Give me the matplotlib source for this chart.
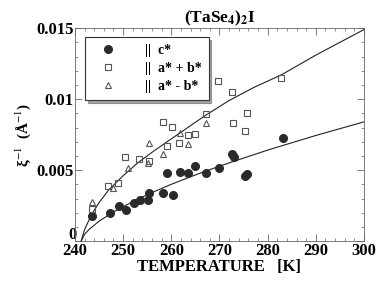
import matplotlib
matplotlib.use("Agg")
import matplotlib.pyplot as plt
from matplotlib.ticker import MultipleLocator, FixedFormatter, FixedLocator
from matplotlib.transforms import ScaledTranslation

plt.rcParams['font.family'] = ['Liberation Serif', 'DejaVu Serif']
plt.rcParams['mathtext.fontset'] = 'stix'

# ξ^-1 along c*
T_c = [243.6, 247.3, 249.1, 250.7, 252.2, 253.5, 255.2, 255.4, 258.3, 260.3,
       259.2, 261.8, 263.5, 264.9, 267.3, 269.9, 272.7, 273.0, 275.4, 275.8, 283.1]
xi_c = [0.00178, 0.00196, 0.00246, 0.00218, 0.00265, 0.00289, 0.00289, 0.00336,
        0.00336, 0.00324, 0.00481, 0.00488, 0.00477, 0.00530, 0.00477, 0.00516,
        0.00613, 0.00594, 0.00458, 0.00472, 0.00728]

# ξ^-1 along a* + b*
T_apb = [243.6, 246.9, 249.0, 250.4, 253.4, 255.4, 258.2, 260.1, 259.2, 261.7,
         263.5, 264.9, 267.3, 269.8, 272.7, 272.9, 275.3, 275.8, 282.8]
xi_apb = [0.00225, 0.00387, 0.00406, 0.00594, 0.00575, 0.00563, 0.0084, 0.00805,
          0.00671, 0.00688, 0.00746, 0.00751, 0.00894, 0.01127, 0.01052, 0.00829,
          0.00777, 0.00904, 0.0115]

# ξ^-1 along a* - b*
T_amb = [243.6, 248.0, 251.1, 255.2, 255.4, 258.2, 261.8, 263.5, 267.3]
xi_amb = [0.00277, 0.00371, 0.00512, 0.00547, 0.00692, 0.00617, 0.00758, 0.00683, 0.00833]

# fit lines
T_fit_lo = [241.3, 242, 243, 245, 248, 252, 256, 260, 265, 270, 280, 290, 300]
xi_fit_lo = [0.0, 0.00047, 0.00084, 0.0014, 0.00205, 0.00278, 0.00342, 0.0040,
             0.00466, 0.00528, 0.00641, 0.00744, 0.0084]
T_fit_hi = [241.3, 242, 243.5, 245, 247, 250, 253, 256.6, 260, 263, 267.3,
            272, 277, 282.8, 290, 300]
xi_fit_hi = [0.0, 0.0008, 0.0019, 0.0027, 0.0036, 0.0046, 0.0055, 0.0064, 0.0072,
             0.0079, 0.0089, 0.0099, 0.0108, 0.0117, 0.0131, 0.0149]

x_ticks = [240, 250, 260, 270, 280, 290, 300]
y_ticks = [0, 0.005, 0.01, 0.015]
y_labels = ['0', '0.005', '0.01', '0.015']

fig = plt.figure(figsize=(3.82, 2.84), dpi=100)
ax = fig.add_axes([0.196, 0.151, 0.757, 0.750])

ax.plot(T_fit_lo, xi_fit_lo, color='#222222', lw=0.8)
ax.plot(T_fit_hi, xi_fit_hi, color='#222222', lw=0.8)

ax.plot(T_c, xi_c, 'o', color='#2a2a2a', ms=5.5, label='||  c*', zorder=3)
ax.plot(T_apb, xi_apb, 's', mfc='none', mec='#555555', mew=0.8, ms=5,
        label='||  a* + b*', zorder=3)
ax.plot(T_amb, xi_amb, '^', mfc='none', mec='#555555', mew=0.8, ms=5,
        label='||  a* - b*', zorder=3)

ax.set_xlim(240, 300)
ax.set_ylim(0, 0.015)
ax.xaxis.set_major_locator(FixedLocator(x_ticks))
ax.yaxis.set_major_locator(FixedLocator(y_ticks))
ax.yaxis.set_major_formatter(FixedFormatter(y_labels))
ax.xaxis.set_minor_locator(MultipleLocator(2))
ax.yaxis.set_minor_locator(MultipleLocator(0.001))
ax.tick_params(which='both', direction='in', top=True, right=True, color='#666666')
ax.tick_params(which='major', length=5, width=0.6, labelsize=12, pad=1)
ax.tick_params(which='minor', length=2.5, width=0.5)
for lab in ax.get_xticklabels() + ax.get_yticklabels():
    lab.set_fontweight('bold')
for s in ax.spines.values():
    s.set_linewidth(0.6)
    s.set_color('#666666')

# the "0" sits a bit higher in the original, just above "240"
ylabs = ax.get_yticklabels()
ylabs[0].set_transform(ylabs[0].get_transform() +
                       ScaledTranslation(0.03, 0.08, fig.dpi_scale_trans))

ax.set_title('(TaSe$_\\mathbf{4}$)$_\\mathbf{2}$I', fontsize=12.5, fontweight='bold', pad=4)
ax.set_xlabel('TEMPERATURE   [K]', fontsize=12, fontweight='bold', labelpad=0)
ax.set_ylabel('ξ$^{-1}$  (Å$^{-1}$)', fontsize=11, fontweight='bold', labelpad=2)

leg = ax.legend(loc='upper left', bbox_to_anchor=(0.012, 0.99),
                prop={'weight': 'bold', 'size': 10}, fancybox=False, shadow=True,
                edgecolor='#333333', framealpha=1, handletextpad=1.6,
                borderpad=0.5, labelspacing=0.35, handlelength=2.2)
leg.get_frame().set_linewidth(0.8)

fig.savefig('out.png', dpi=100)
